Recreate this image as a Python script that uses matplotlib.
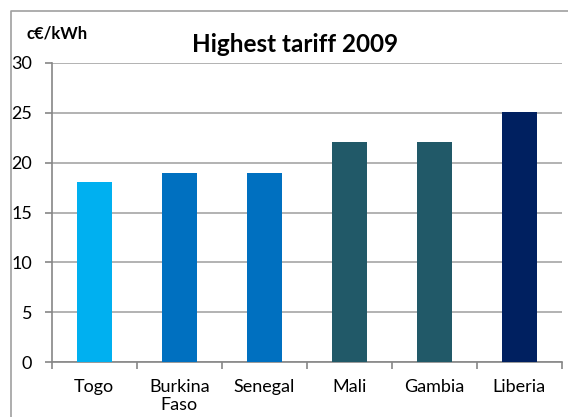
import matplotlib.pyplot as plt
from matplotlib.lines import Line2D
import numpy as np

plt.rcParams['font.family'] = ['Lato', 'DejaVu Sans']

countries = ['Togo', 'Burkina\nFaso', 'Senegal', 'Mali', 'Gambia', 'Liberia']
tariff = [18.1, 19, 19, 22.1, 22.1, 25.1]
colors = ['#00B0F0', '#0070C0', '#0070C0', '#215968', '#215968', '#002060']

fig = plt.figure(figsize=(5.68, 4.17), dpi=100)
ax = fig.add_axes([0.091, 0.1312, 0.898, 0.718])

x = np.arange(len(countries))
ax.bar(x, tariff, width=0.41, color=colors, zorder=3)

ax.set_xlim(-0.5, len(countries) - 0.5)
ax.set_ylim(0, 30)
ax.set_yticks(range(0, 31, 5))
ax.yaxis.grid(True, color='#A6A6A6', linewidth=1.2, zorder=0)

# category boundaries get the tick marks, labels sit in between
ax.set_xticks(np.arange(-0.5, len(countries), 1))
ax.set_xticklabels([])
ax.set_xticks(x, minor=True)
ax.set_xticklabels(countries, minor=True, fontsize=13, linespacing=1.15)
ax.tick_params(axis='x', which='major', length=5, color='#868686', width=1.2)
ax.tick_params(axis='x', which='minor', length=0, pad=12)
ax.tick_params(axis='y', length=5, color='#868686', width=1.2, labelsize=13, pad=9)

for s in ['top', 'right']:
    ax.spines[s].set_visible(False)
for s in ['left', 'bottom']:
    ax.spines[s].set_color('#868686')
    ax.spines[s].set_linewidth(1.2)

fig.text(0.52, 0.894, 'Highest tariff 2009', ha='center', va='center',
         fontsize=17.5, fontweight='bold')
fig.text(0.047, 0.92, 'c€/kWh', ha='left', va='center', fontsize=12,
         fontweight='bold')

# chart frame (only left and top edges are inside the picture)
bx, by = 11 / 568, 1 - 11 / 417
fig.add_artist(Line2D([bx, bx, 1], [0, by, by], transform=fig.transFigure,
                      color='#A0A0A0', linewidth=1.2))

fig.savefig('out.png', dpi=100)
